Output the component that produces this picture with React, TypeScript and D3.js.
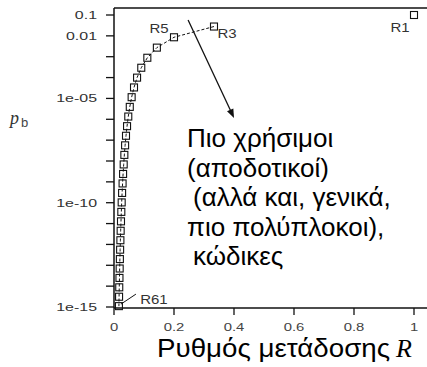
import React from "react";
import * as d3 from "d3";

// Repetition codes R_N (N odd, 1..61): rate R = 1/N and bit error probability p_b
const codeNames = ["R1","R3","R5","R7","R9","R11","R13","R15","R17","R19","R21","R23","R25","R27","R29","R31","R33","R35","R37","R39","R41","R43","R45","R47","R49","R51","R53","R55","R57","R59","R61"];
const rates = [1, 0.3333, 0.2, 0.1429, 0.1111, 0.0909, 0.0769, 0.0667, 0.0588, 0.0526, 0.0476, 0.0435, 0.04, 0.037, 0.0345, 0.0323, 0.0303, 0.0286, 0.027, 0.0256, 0.0244, 0.0233, 0.0222, 0.0213, 0.0204, 0.0196, 0.0189, 0.0182, 0.0175, 0.0169, 0.0164];
const pbValues = [0.1, 0.028, 0.00856, 0.002728, 8.909e-4, 2.957e-4, 9.928e-5, 3.363e-5, 1.1465e-5, 3.93e-6, 1.3531e-6, 4.676e-7, 1.6209e-7, 5.633e-8, 1.9626e-8, 6.85e-9, 2.3961e-9, 8.392e-10, 2.9436e-10, 1.0338e-10, 3.635e-11, 1.2795e-11, 4.508e-12, 1.5898e-12, 5.611e-13, 1.9823e-13, 7.007e-14, 2.4785e-14, 8.773e-15, 3.106e-15, 1.1005e-15];
const labelledCodes = ["R1", "R3", "R5", "R61"];

const xTicks = [0, 0.2, 0.4, 0.6, 0.8, 1];
const xTickLabels = ["0", "0.2", "0.4", "0.6", "0.8", "1"];
const yTicks = [0.1, 0.01, 1e-3, 1e-4, 1e-5, 1e-6, 1e-7, 1e-8, 1e-9, 1e-10, 1e-11, 1e-12, 1e-13, 1e-14, 1e-15];
const yLabelledTicks = [0.1, 0.01, 1e-5, 1e-10, 1e-15];
const yTickLabels = ["0.1", "0.01", "1e-05", "1e-10", "1e-15"];

const annotationLines = ["Πιο χρήσιμοι", "(αποδοτικοί)", " (αλλά και, γενικά,", "πιο πολύπλοκοι),", " κώδικες"];
const xTitle = "Ρυθμός μετάδοσης";
const xTitleVar = "R";
const arrowFrom = { R: 0.247, pb: 0.058 };
const arrowTo = { R: 0.4, pb: 1.15e-6 };

const W = 427, H = 367;
const FONT = "'Liberation Sans', Arial, sans-serif";
const SERIF = "'Liberation Serif', 'Times New Roman', serif";

function Stretched({ x, y, sx, size, anchor, fill, children }: any) {
  return (
    <text transform={`translate(${x},${y}) scale(${sx},1)`} fontSize={size} textAnchor={anchor} fill={fill} fontFamily={FONT}>
      {children}
    </text>
  );
}

export default function App() {
  const x = d3.scaleLinear().domain([0, 1]).range([114, 414]);
  const y = d3.scaleLog().domain([1e-15, 0.1]).range([307, 15]);
  const pts = rates.map((r, i) => ({ name: codeNames[i], R: r, pb: pbValues[i] }));
  const curve = pts.filter((p) => p.name !== "R1");
  const line = d3.line<any>().x((d) => x(d.R)).y((d) => y(d.pb));
  const sq = 7;
  const get = (n: string) => pts.find((p) => p.name === n)!;
  const labelOffsets: Record<string, [number, number]> = {
    R1: [-14, 17],
    R3: [13, 11],
    R5: [-15, -4],
    R61: [35, -2],
  };
  const ax0 = x(arrowFrom.R), ay0 = y(arrowFrom.pb);
  const ax1 = x(arrowTo.R), ay1 = y(arrowTo.pb);
  const ang = Math.atan2(ay1 - ay0, ax1 - ax0);
  const hl = 9, hw = 3.5;
  const head = [
    [ax1, ay1],
    [ax1 - hl * Math.cos(ang) + hw * Math.sin(ang), ay1 - hl * Math.sin(ang) - hw * Math.cos(ang)],
    [ax1 - hl * Math.cos(ang) - hw * Math.sin(ang), ay1 - hl * Math.sin(ang) + hw * Math.cos(ang)],
  ];
  const r61 = get("R61");
  return (
    <svg width={W} height={H} style={{ position: "absolute", left: 0, top: 0, background: "#fff" }}>
      <rect width={W} height={H} fill="#fff" />
      {/* frame */}
      <line x1={114} x2={430} y1={8} y2={8} stroke="#111" strokeWidth={1.5} />
      <line x1={114} x2={114} y1={8} y2={308} stroke="#111" strokeWidth={1.5} />
      <line x1={114} x2={430} y1={308} y2={308} stroke="#111" strokeWidth={1.5} />
      {/* y ticks */}
      {yTicks.map((t) => (
        <line key={"yt" + t} x1={106} x2={114} y1={y(t)} y2={y(t)} stroke="#111" strokeWidth={1.3} />
      ))}
      {yLabelledTicks.map((t, i) => (
        <Stretched key={"yl" + t} x={97} y={y(t) + 4} sx={1.45} size={11} anchor="end" fill="#333">
          {yTickLabels[i]}
        </Stretched>
      ))}
      {/* x ticks */}
      {xTicks.map((t, i) => (
        <g key={"xt" + t}>
          <line x1={x(t)} x2={x(t)} y1={308} y2={315} stroke="#111" strokeWidth={1.3} />
          <Stretched x={x(t)} y={331} sx={1.35} size={11} anchor="middle" fill="#444">
            {xTickLabels[i]}
          </Stretched>
        </g>
      ))}
      {/* curve */}
      <path d={line(curve) || ""} fill="none" stroke="#111" strokeWidth={1} strokeDasharray="3,2" />
      {pts.map((p) => (
        <rect key={p.name} x={x(p.R) - sq / 2} y={y(p.pb) - sq / 2} width={sq} height={sq} fill="none" stroke="#111" strokeWidth={1.1} />
      ))}
      {/* labels */}
      {labelledCodes.map((n) => {
        const p = get(n);
        const [dx, dy] = labelOffsets[n];
        return (
          <Stretched key={"lab" + n} x={x(p.R) + dx} y={y(p.pb) + dy} sx={1.2} size={12.5} anchor="middle" fill="#333">
            {n}
          </Stretched>
        );
      })}
      <line x1={x(r61.R) + 2} y1={y(r61.pb) - 2} x2={x(r61.R) + 17} y2={y(r61.pb) - 12} stroke="#111" strokeWidth={1} />
      {/* arrow */}
      <line x1={ax0} y1={ay0} x2={ax1 - 6 * Math.cos(ang)} y2={ay1 - 6 * Math.sin(ang)} stroke="#111" strokeWidth={1.3} />
      <polygon points={head.map((p) => p.join(",")).join(" ")} fill="#111" />
      {/* annotation */}
      {annotationLines.map((l, i) => (
        <text key={"an" + i} x={187 + (l.startsWith(" ") ? 6 : 0)} y={147 + i * 29.5} fontSize={26} fontFamily={FONT} fill="#000">
          {l.trim()}
        </text>
      ))}
      {/* y title */}
      <text x={10} y={124} fontSize={18} fontStyle="italic" fontFamily={SERIF} fill="#333">p</text>
      <text x={21} y={127} fontSize={13} fontFamily={FONT} fill="#444">b</text>
      {/* x title */}
      <text x={157} y={357} fontSize={25.5} fontFamily={FONT} fill="#000" textLength={233} lengthAdjust="spacingAndGlyphs">
        {xTitle}
      </text>
      <text x={396} y={357} fontSize={26} fontStyle="italic" fontFamily={SERIF} fill="#000">
        {xTitleVar}
      </text>
    </svg>
  );
}
